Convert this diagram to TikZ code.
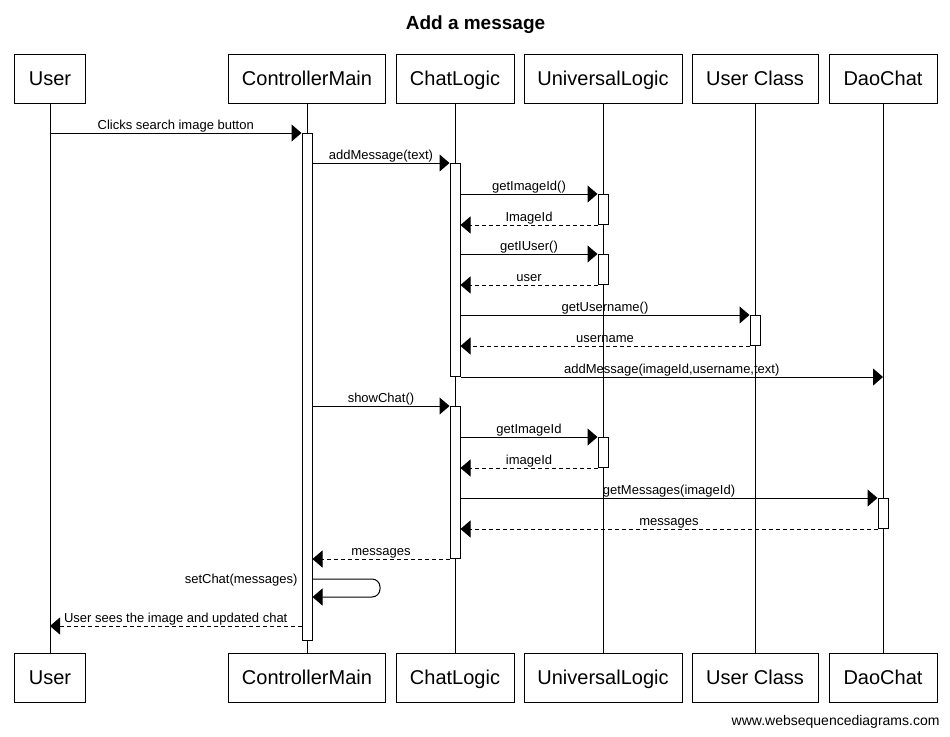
\documentclass[tikz,border=0pt]{standalone}
\usepackage{fontspec}
\setmainfont{Liberation Sans}
\usetikzlibrary{arrows.meta}
\begin{document}
\begin{tikzpicture}[x=1pt,y=-1pt,line width=1pt,
  actor/.style={draw,fill=white,minimum height=49pt,inner sep=0pt,text height=16pt,text depth=2.4pt,font=\fontsize{20}{24}\selectfont},
  life/.style={draw},
  act/.style={draw,fill=white,minimum width=10pt,inner sep=0pt,anchor=north},
  msg/.style={-{Triangle[length=10pt,width=17pt]}},
  ret/.style={-{Triangle[length=10pt,width=17pt]},dash pattern=on 4pt off 3pt},
  lbl/.style={midway,anchor=base,yshift=4pt,inner sep=0pt,font=\fontsize{13}{15}\selectfont}]
\useasboundingbox (0,0) rectangle (950,736);
\fill[white] (0,0) rectangle (950,736);
% title
\node[anchor=base,inner sep=0pt,font=\bfseries\fontsize{19}{23}\selectfont] (title) at (475.5,29.5) {Add a message};
% actors top
\node[actor,minimum width=71pt]  (uT) at (50,78.5) {User};
\node[actor,minimum width=157pt] (cT) at (307,78.5) {ControllerMain};
\node[actor,minimum width=118pt] (lT) at (455,78.5) {ChatLogic};
\node[actor,minimum width=158pt] (vT) at (603,78.5) {UniversalLogic};
\node[actor,minimum width=126pt] (kT) at (755,78.5) {User Class};
\node[actor,minimum width=108pt] (dT) at (883,78.5) {DaoChat};
% actors bottom
\node[actor,minimum width=71pt]  (uB) at (50,677.5) {User};
\node[actor,minimum width=157pt] (cB) at (307,677.5) {ControllerMain};
\node[actor,minimum width=118pt] (lB) at (455,677.5) {ChatLogic};
\node[actor,minimum width=158pt] (vB) at (603,677.5) {UniversalLogic};
\node[actor,minimum width=126pt] (kB) at (755,677.5) {User Class};
\node[actor,minimum width=108pt] (dB) at (883,677.5) {DaoChat};
% lifelines
\draw[life] (uT.south) -- (uB.north);
\draw[life] (cT.south) -- (cB.north);
\draw[life] (lT.south) -- (lB.north);
\draw[life] (vT.south) -- (vB.north);
\draw[life] (kT.south) -- (kB.north);
\draw[life] (dT.south) -- (dB.north);
% activations
\node[act,minimum height=507pt] (cmA) at (307,133) {};
\node[act,minimum height=213pt] (clA1) at (455,163) {};
\node[act,minimum height=30pt] (ulA1) at (603,194) {};
\node[act,minimum height=30pt] (ulA2) at (603,254) {};
\node[act,minimum height=30pt] (ucA) at (755,315) {};
\node[act,minimum height=152pt] (clA2) at (455,406) {};
\node[act,minimum height=30pt] (ulA3) at (603,437) {};
\node[act,minimum height=30pt] (dcA) at (883,498) {};
% messages
\draw[msg] (cmA.north west -| uT.south) -- node[lbl]{Clicks search image button} (cmA.north west);
\draw[msg] (clA1.north west -| cmA.east) -- node[lbl]{addMessage(text)} (clA1.north west);
\draw[msg] (ulA1.north west -| clA1.east) -- node[lbl]{getImageId()} (ulA1.north west);
\draw[ret] (ulA1.south west) -- node[lbl]{ImageId} (ulA1.south west -| clA1.east);
\draw[msg] (ulA2.north west -| clA1.east) -- node[lbl]{getIUser()} (ulA2.north west);
\draw[ret] (ulA2.south west) -- node[lbl]{user} (ulA2.south west -| clA1.east);
\draw[msg] (ucA.north west -| clA1.east) -- node[lbl]{getUsername()} (ucA.north west);
\draw[ret] (ucA.south west) -- node[lbl]{username} (ucA.south west -| clA1.east);
\draw[msg] (clA1.south east) -- node[lbl]{addMessage(imageId,username,text)} (clA1.south east -| dT.south);
\draw[msg] (clA2.north west -| cmA.east) -- node[lbl]{showChat()} (clA2.north west);
\draw[msg] (ulA3.north west -| clA2.east) -- node[lbl]{getImageId} (ulA3.north west);
\draw[ret] (ulA3.south west) -- node[lbl]{imageId} (ulA3.south west -| clA2.east);
\draw[msg] (dcA.north west -| clA2.east) -- node[lbl]{getMessages(imageId)} (dcA.north west);
\draw[ret] (dcA.south west) -- node[lbl]{messages} (dcA.south west -| clA2.east);
\draw[ret] (clA2.south west) -- node[lbl]{messages} (clA2.south west -| cmA.east);
% self message
\coordinate (y579) at (0,579);
\coordinate (y597) at (0,597);
\coordinate (y626) at (0,626);
\coordinate (sx) at (380,0);
\draw[msg,rounded corners=8pt] (cmA.east |- y579) -- (sx |- y579) -- (sx |- y597) -- (cmA.east |- y597);
\node[anchor=base east,inner sep=0pt,font=\fontsize{13}{15}\selectfont] (setc) at (298,583.5) {setChat(messages)};
\draw[ret] (cmA.west |- y626) -- node[lbl]{User sees the image and updated chat} (uT.south |- y626);
% footer
\node[anchor=base east,inner sep=0pt,font=\fontsize{14}{16}\selectfont] (foot) at (940,725) {www.websequencediagrams.com};
\end{tikzpicture}
\end{document}
